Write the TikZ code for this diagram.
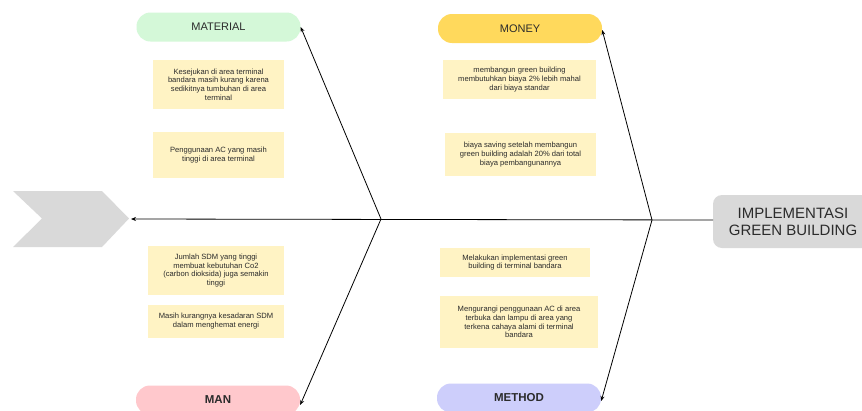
\documentclass[tikz,border=0pt]{standalone}
\usepackage{fontspec}
\setmainfont{Liberation Sans}
\usetikzlibrary{arrows.meta}
\definecolor{pillgreen}{HTML}{D4F8D8}
\definecolor{pillgold}{HTML}{FFD95C}
\definecolor{pillpink}{HTML}{FFC8CC}
\definecolor{pillblue}{HTML}{CDCEFB}
\definecolor{noteyellow}{HTML}{FFF3C4}
\definecolor{greyshape}{HTML}{D9D9D9}
\definecolor{labeltext}{HTML}{2B2B2B}
\begin{document}
\begin{tikzpicture}[x=1pt,y=-1pt,
  pill/.style={rounded corners=14pt, minimum width=164pt, minimum height=29pt, inner sep=0pt,
    text=labeltext, font=\fontsize{11}{13}\selectfont},
  note/.style={fill=noteyellow, align=center, inner sep=0pt, text=labeltext,
    font=\fontsize{7.6}{8.8}\selectfont},
  arr/.style={-{Stealth[length=5pt,width=4pt]}, line width=0.8pt, black},
  headtext/.style={align=center, text=labeltext, font=\fontsize{15}{17}\selectfont}]
\useasboundingbox (0,0) rectangle (862,410);
\clip (0,0) rectangle (862,410);
\fill[white] (0,0) rectangle (862,410);

% head box
\fill[greyshape, rounded corners=9pt] (713,195) rectangle (890,248);
\node[headtext] (head) at (793,221.5) {IMPLEMENTASI\\GREEN BUILDING};
\coordinate (hl) at (713,220);

% tail chevron
\fill[greyshape] (13,191) -- (102,191) -- (129,218.5) -- (102,247) -- (13,247) -- (42,218.5) -- cycle;
\coordinate (tail) at (131,219);

% junctions
\coordinate (jl) at (381,219);
\coordinate (jr) at (652,220);

% category pills
\node[pill, fill=pillgreen] (mat) at (218.5,27) {MATERIAL};
\node[pill, fill=pillgold] (money) at (520,28.5) {MONEY};
\node[pill, fill=pillpink, font=\fontsize{11.5}{13}\selectfont\bfseries] (man) at (218,400) {MAN};
\node[pill, fill=pillblue, font=\fontsize{11.5}{13}\selectfont\bfseries] (method) at (519,398) {METHOD};

% notes
\node[note, minimum width=131pt, minimum height=49pt] (m1) at (218.5,84.5)
  {Kesejukan di area terminal\\bandara masih kurang karena\\sedikitnya tumbuhan di area\\terminal};
\node[note, minimum width=131pt, minimum height=46pt] (m2) at (218.5,155)
  {Penggunaan AC yang masih\\tinggi di area terminal};
\node[note, minimum width=153pt, minimum height=39pt] (o1) at (519.5,79.5)
  {membangun green building\\membutuhkan biaya 2\% lebih mahal\\dari biaya standar};
\node[note, minimum width=151pt, minimum height=43pt] (o2) at (520.5,154.5)
  {biaya saving setelah membangun\\green building adalah 20\% dari total\\biaya pembangunannya};
\node[note, minimum width=136pt, minimum height=49pt] (a1) at (216,270.5)
  {Jumlah SDM yang tinggi\\membuat kebutuhan Co2\\(carbon dioksida) juga semakin\\tinggi};
\node[note, minimum width=136pt, minimum height=33pt] (a2) at (216,321)
  {Masih kurangnya kesadaran SDM\\dalam menghemat energi};
\node[note, minimum width=150pt, minimum height=29pt] (e1) at (515,262.5)
  {Melakukan implementasi green\\building di terminal bandara};
\node[note, minimum width=158pt, minimum height=52pt] (e2) at (519,322)
  {Mengurangi penggunaan AC di area\\terbuka dan lampu di area yang\\terkena cahaya alami di terminal\\bandara};

% spine and bones
\draw[arr] (hl) -- (tail);
\draw[arr] (jl) -- (mat.east);
\draw[arr] (jl) -- ([yshift=-5pt]man.east);
\draw[arr] (jr) -- ([yshift=-1.5pt]money.east);
\draw[arr] (jr) -- ([yshift=-3pt]method.east);
\end{tikzpicture}
\end{document}
